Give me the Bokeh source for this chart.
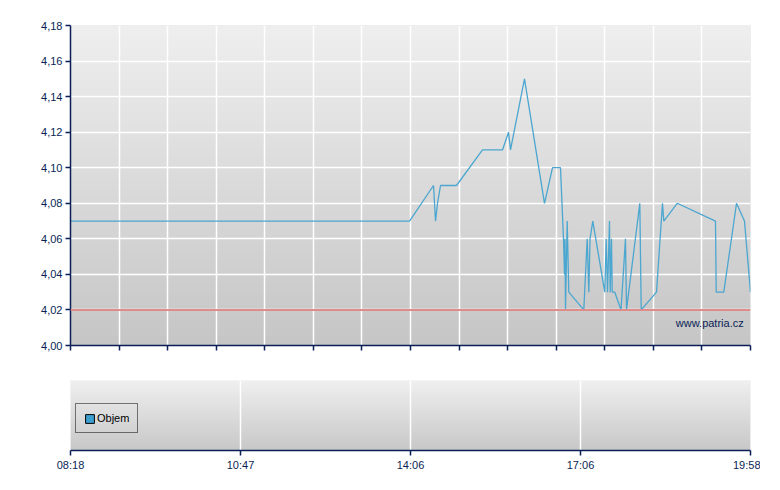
import numpy as np
from bokeh.plotting import figure
from bokeh.layouts import column
from bokeh.models import (FixedTicker, CustomJSTickFormatter, Label, Range1d,
                          Span, Legend, LegendItem)
from bokeh.embed import file_html
from bokeh.resources import INLINE

# ---- data (x = trade index position, 0..140) ----
price_x = [0, 69.8, 74.74, 75.15, 75.56, 76.18, 79.47, 84.82, 88.94, 90.18,
           90.59, 93.47, 97.59, 99.24, 100.88, 101.50, 101.71, 101.81, 101.91,
           102.26, 102.59, 105.68, 106.38, 106.71, 106.96, 107.53, 110.00,
           110.29, 110.56, 110.97, 111.11, 111.38, 111.53, 112.06, 113.34,
           114.26, 114.47, 117.21, 117.50, 120.65, 121.88, 122.15, 124.91,
           132.79, 132.94, 134.50, 137.12, 138.76, 140.00]
price_y = [4.07, 4.07, 4.09, 4.07, 4.08, 4.09, 4.09, 4.11, 4.11, 4.12,
           4.11, 4.15, 4.08, 4.10, 4.10, 4.06, 4.04, 4.06, 4.02,
           4.07, 4.03, 4.02, 4.06, 4.03, 4.06, 4.07, 4.03,
           4.06, 4.03, 4.07, 4.03, 4.06, 4.03, 4.03, 4.02,
           4.06, 4.02, 4.08, 4.02, 4.03, 4.08, 4.07, 4.08,
           4.07, 4.03, 4.03, 4.08, 4.07, 4.03]
prev_close = 4.02
# no volume bars are visible in the chart (values unavailable)
volume_x = [float("nan")]
volume_y = [float("nan")]

y_ticks = [4.00, 4.02, 4.04, 4.06, 4.08, 4.10, 4.12, 4.14, 4.16, 4.18]
top_x_ticks = list(range(0, 141, 10))
time_tick_pos = [0, 35, 70, 105, 140]
time_tick_labels = ["08:18", "10:47", "14:06", "17:06", "19:58"]

X_MIN, X_MAX = 0, 140
Y_MIN, Y_MAX = 4.00, 4.18

NAVY = "#0a1f55"
FONT = "Liberation Sans"


def gradient(top_hex, bottom_hex, n=256):
    def rgb(h):
        h = h.lstrip("#")
        return np.array([int(h[i:i + 2], 16) for i in (0, 2, 4)], dtype=float)
    t = np.linspace(0, 1, n)[:, None]
    c = rgb(bottom_hex) * (1 - t) + rgb(top_hex) * t
    img = np.empty((n, 1), dtype=np.uint32)
    v = img.view(dtype=np.uint8).reshape((n, 1, 4))
    v[:, :, 0] = c[:, 0:1]
    v[:, :, 1] = c[:, 1:2]
    v[:, :, 2] = c[:, 2:3]
    v[:, :, 3] = 255
    return img


def style_axis(ax):
    ax.axis_line_color = NAVY
    ax.axis_line_width = 1.5
    ax.major_tick_line_color = NAVY
    ax.major_tick_line_width = 1.5
    ax.major_tick_out = 5
    ax.major_tick_in = 0
    ax.minor_tick_line_color = None
    ax.major_label_text_color = NAVY
    ax.major_label_text_font = FONT
    ax.major_label_text_font_size = "11px"
    ax.major_label_standoff = 3


# ---- top (price) panel ----
p1 = figure(frame_width=680, frame_height=320, width=None, height=None,
            x_range=Range1d(X_MIN, X_MAX), y_range=Range1d(Y_MIN, Y_MAX),
            output_backend="svg", toolbar_location=None,
            min_border_left=70, min_border_right=10, min_border_top=25,
            min_border_bottom=20)
p1.outline_line_color = None
p1.background_fill_color = "#dddddd"
p1.image_rgba(image=[gradient("#efefef", "#c6c6c6")], x=X_MIN, y=Y_MIN,
              dw=X_MAX - X_MIN, dh=Y_MAX - Y_MIN, level="image")

p1.xaxis.ticker = FixedTicker(ticks=top_x_ticks)
p1.yaxis.ticker = FixedTicker(ticks=y_ticks)
p1.yaxis.formatter = CustomJSTickFormatter(
    code="return tick.toFixed(2).replace('.', ',');")
style_axis(p1.xaxis[0])
style_axis(p1.yaxis[0])
p1.xaxis.major_label_overrides = {t: "" for t in top_x_ticks}
p1.grid.grid_line_color = "white"
p1.grid.grid_line_width = 1.5
p1.grid.grid_line_alpha = 1.0

p1.add_layout(Span(location=prev_close, dimension="width",
                   line_color="#e08a8a", line_width=2))
p1.line(price_x, price_y, line_color="#4ba6d0", line_width=1.3)
p1.add_layout(Label(x=138.6, y=4.0124, text="www.patria.cz",
                    text_align="right", text_baseline="middle",
                    text_color=NAVY, text_font=FONT, text_font_size="11px"))

# ---- bottom (volume) panel ----
p2 = figure(frame_width=680, frame_height=70, width=None, height=None,
            x_range=Range1d(X_MIN, X_MAX), y_range=Range1d(0, 1),
            output_backend="svg", toolbar_location=None,
            min_border_left=70, min_border_right=10, min_border_top=15,
            min_border_bottom=28)
p2.outline_line_color = "#f6f6f6"
p2.background_fill_color = "#dddddd"
p2.image_rgba(image=[gradient("#f0f0f0", "#c8c8c8")], x=X_MIN, y=0,
              dw=X_MAX - X_MIN, dh=1, level="image")
p2.yaxis.visible = False
p2.ygrid.grid_line_color = None
p2.xgrid.grid_line_color = "white"
p2.xgrid.grid_line_width = 1.5
p2.xaxis.ticker = FixedTicker(ticks=time_tick_pos)
p2.xaxis.major_label_overrides = dict(zip(time_tick_pos, time_tick_labels))
style_axis(p2.xaxis[0])
p2.xgrid.ticker = FixedTicker(ticks=time_tick_pos)

vol = p2.vbar(x=volume_x, top=volume_y, width=1, fill_color="#3d9fd0",
              line_color="black")
legend = Legend(items=[LegendItem(label="Objem", renderers=[vol])],
                location=(5, 17), margin=0, padding=8, spacing=0,
                glyph_width=11, glyph_height=11, label_height=12,
                label_standoff=2, label_text_font=FONT,
                label_text_font_size="11px", label_text_color="black",
                border_line_color="black", border_line_width=1,
                background_fill_alpha=0)
p2.add_layout(legend)

layout = column(p1, p2, spacing=0)
open("out.html", "w").write(file_html(layout, INLINE))
